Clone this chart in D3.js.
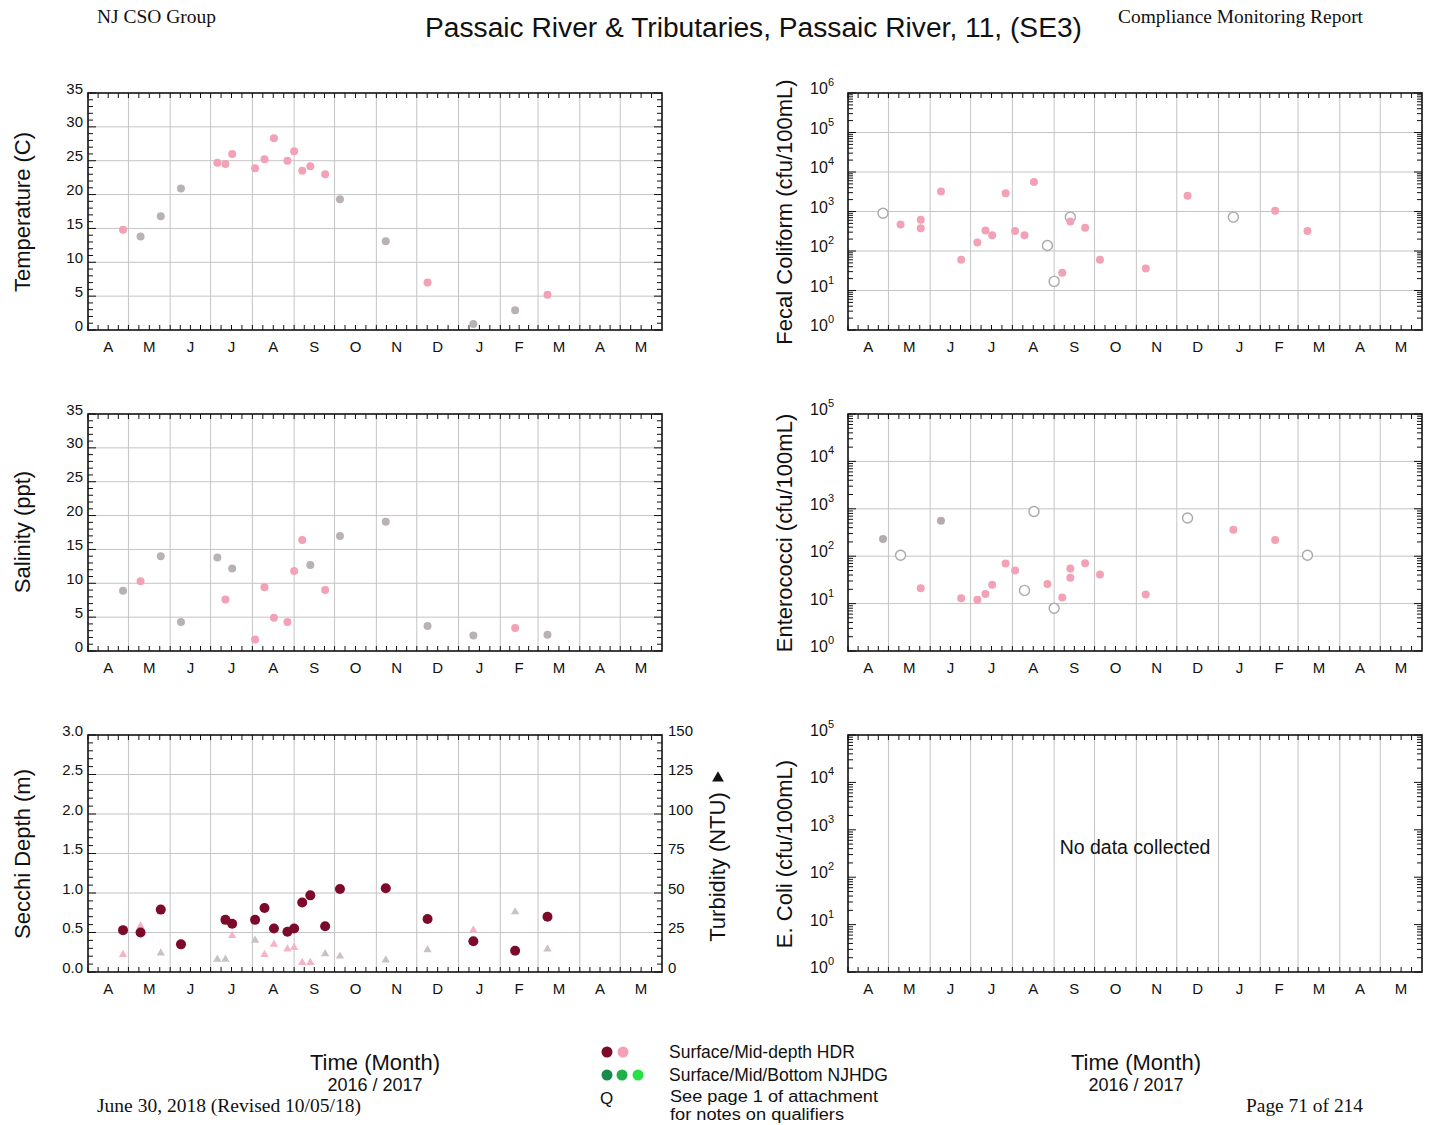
<!DOCTYPE html>
<html>
<head>
<meta charset="UTF-8">
<title>Passaic River SE3</title>
<script src="https://d3js.org/d3.v7.min.js"></script>
<style>
  body { margin: 0; background: #fff; }
  svg text { font-family: "Liberation Sans", Arial, Helvetica, sans-serif; fill: #111; }
  svg text.serif { font-family: "Liberation Serif", "Times New Roman", serif; }
</style>
</head>
<body>
<div id="chart"></div>
<script>
const months = ["A", "M", "J", "J", "A", "S", "O", "N", "D", "J", "F", "M", "A", "M"];

// Temperature (C)
const tempSurfDates = ["2016-04-27","2016-07-06","2016-07-12","2016-07-17","2016-08-03","2016-08-10","2016-08-17","2016-08-27","2016-09-01","2016-09-07","2016-09-13","2016-09-24","2016-12-09","2017-03-08"];
const tempSurfValues = [14.8, 24.7, 24.5, 26.0, 23.9, 25.2, 28.3, 25.0, 26.4, 23.5, 24.2, 23.0, 7.0, 5.2];
const tempMidDates = ["2016-05-10","2016-05-25","2016-06-09","2016-10-05","2016-11-08","2017-01-12","2017-02-12"];
const tempMidValues = [13.8, 16.8, 20.9, 19.3, 13.1, 0.9, 2.9];

// Salinity (ppt)
const salSurfDates = ["2016-05-10","2016-07-12","2016-08-03","2016-08-10","2016-08-17","2016-08-27","2016-09-01","2016-09-07","2016-09-24","2017-02-12"];
const salSurfValues = [10.3, 7.6, 1.7, 9.4, 4.9, 4.3, 11.8, 16.4, 9.0, 3.4];
const salMidDates = ["2016-04-27","2016-05-25","2016-06-09","2016-07-06","2016-07-17","2016-09-13","2016-10-05","2016-11-08","2016-12-09","2017-01-12","2017-03-08"];
const salMidValues = [8.9, 14.0, 4.3, 13.8, 12.2, 12.7, 17.0, 19.1, 3.7, 2.3, 2.4];

// Secchi depth (m)
const secchiDates = ["2016-04-27","2016-05-10","2016-05-25","2016-06-09","2016-07-12","2016-07-17","2016-08-03","2016-08-10","2016-08-17","2016-08-27","2016-09-01","2016-09-07","2016-09-13","2016-09-24","2016-10-05","2016-11-08","2016-12-09","2017-01-12","2017-02-12","2017-03-08"];
const secchiValues = [0.53, 0.50, 0.79, 0.35, 0.66, 0.61, 0.66, 0.81, 0.55, 0.51, 0.55, 0.88, 0.97, 0.58, 1.05, 1.06, 0.67, 0.39, 0.27, 0.70];

// Turbidity (NTU)
const turbSurfDates = ["2016-04-27","2016-05-10","2016-07-17","2016-08-10","2016-08-17","2016-08-27","2016-09-01","2016-09-07","2016-09-13","2017-01-12"];
const turbSurfValues = [11, 29, 23, 11, 17.5, 14.5, 15.5, 6, 6, 26.5];
const turbMidDates = ["2016-05-25","2016-07-06","2016-07-12","2016-08-03","2016-09-24","2016-10-05","2016-11-08","2016-12-09","2017-02-12","2017-03-08"];
const turbMidValues = [12, 8, 8, 20, 11.5, 10, 7.5, 14, 38, 14.5];

// Fecal coliform (cfu/100mL)
const fecalDates = ["2016-05-10","2016-05-25","2016-05-25","2016-06-09","2016-06-24","2016-07-06","2016-07-12","2016-07-17","2016-07-27","2016-08-03","2016-08-10","2016-08-17","2016-09-07","2016-09-13","2016-09-24","2016-10-05","2016-11-08","2016-12-09","2017-02-12","2017-03-08"];
const fecalValues = [470, 620, 375, 3200, 60, 165, 330, 250, 2900, 320, 250, 5600, 28, 560, 390, 60, 36, 2500, 1050, 320];
const fecalQDates = ["2016-04-27","2016-08-27","2016-09-01","2016-09-13","2017-01-12"];
const fecalQValues = [900, 138, 17, 720, 720];

// Enterococci (cfu/100mL)
const enteroDates = ["2016-05-25","2016-06-24","2016-07-06","2016-07-12","2016-07-17","2016-07-27","2016-08-03","2016-08-27","2016-09-07","2016-09-13","2016-09-13","2016-09-24","2016-10-05","2016-11-08","2017-01-12","2017-02-12"];
const enteroValues = [21, 13, 12, 16, 25, 70, 50, 26, 13.5, 55, 35, 71, 41, 15.5, 360, 220];
const enteroMidDates = ["2016-04-27","2016-06-09"];
const enteroMidValues = [230, 560];
const enteroQDates = ["2016-05-10","2016-08-10","2016-08-17","2016-09-01","2016-12-09","2017-03-08"];
const enteroQValues = [105, 19, 880, 8, 640, 105];

const linTicks = [0, 5, 10, 15, 20, 25, 30, 35];
const secchiTicks = [0, 0.5, 1, 1.5, 2, 2.5, 3];
const turbTicks = [0, 25, 50, 75, 100, 125, 150];

const darkRed = "#7b0a2b", pink = "#f3a1b6", grey = "#b9b2b4";

const parse = d3.timeParse("%Y-%m-%d");
const start = new Date(2016, 3, 1), end = new Date(2017, 5, 1);
const monthStarts = d3.timeMonth.range(start, end);

const svg = d3.select("#chart").append("svg")
  .attr("width", 1429).attr("height", 1125);

const colLeft = [88, 662], colRight = [848, 1422];
const rows = [[330, 93], [651, 414], [972, 735]];

function pairs(dates, values) {
  return dates.map((d, i) => ({ date: parse(d), value: values[i] }));
}

// grid, ticks, month labels and frame
function panel(col, row, y, gridVals, yMinor, yMajor) {
  const x = d3.scaleTime().domain([start, end]).range(col);
  const [x0, x1] = col, [yb, yt] = row;
  const g = svg.append("g");
  g.selectAll("line.hg").data(gridVals).join("line").attr("class", "hg")
    .attr("x1", x0).attr("x2", x1).attr("y1", d => y(d)).attr("y2", d => y(d))
    .attr("stroke", "#c4c4c4").attr("stroke-width", 1);
  g.selectAll("line.vg").data(monthStarts.slice(1)).join("line").attr("class", "vg")
    .attr("x1", d => x(d)).attr("x2", d => x(d)).attr("y1", yt).attr("y2", yb)
    .attr("stroke", "#c4c4c4").attr("stroke-width", 1);

  const quarters = [];
  monthStarts.forEach(m => {
    const a = x(m), b = x(d3.timeMonth.offset(m, 1));
    for (let i = 0; i < 4; i++) quarters.push(a + (b - a) * i / 4);
  });
  const ticks = svg.append("g").attr("stroke", "#111").attr("stroke-width", 1);
  ticks.selectAll("line.xb").data(quarters).join("line").attr("class", "xb")
    .attr("x1", d => d).attr("x2", d => d).attr("y1", yb).attr("y2", yb - 5);
  ticks.selectAll("line.xt").data(quarters).join("line").attr("class", "xt")
    .attr("x1", d => d).attr("x2", d => d).attr("y1", yt).attr("y2", yt + 5);
  ticks.selectAll("line.yl").data(yMinor).join("line").attr("class", "yl")
    .attr("x1", x0).attr("x2", d => x0 + (yMajor(d) ? 8 : 5))
    .attr("y1", d => y(d)).attr("y2", d => y(d));
  ticks.selectAll("line.yr").data(yMinor).join("line").attr("class", "yr")
    .attr("x1", x1).attr("x2", d => x1 - (yMajor(d) ? 8 : 5))
    .attr("y1", d => y(d)).attr("y2", d => y(d));

  svg.append("rect").attr("x", x0).attr("y", yt).attr("width", x1 - x0).attr("height", yb - yt)
    .attr("fill", "none").attr("stroke", "#111").attr("stroke-width", 1.6);

  svg.append("g").selectAll("text").data(monthStarts).join("text")
    .attr("x", m => (x(m) + x(d3.timeMonth.offset(m, 1))) / 2)
    .attr("y", yb + 22).attr("text-anchor", "middle").attr("font-size", 15)
    .text((m, i) => months[i]);
  return x;
}

function linLabels(y, vals, xPos, anchor, fmt) {
  svg.append("g").selectAll("text").data(vals).join("text")
    .attr("x", xPos).attr("y", d => y(d) + 0.5).attr("text-anchor", anchor)
    .attr("font-size", 15).text(fmt);
}

function logLabels(y, exps, xPos) {
  const t = svg.append("g").selectAll("text").data(exps).join("text")
    .attr("x", xPos).attr("y", d => y(Math.pow(10, d)) + 1)
    .attr("text-anchor", "end").attr("font-size", 16);
  t.append("tspan").text("10");
  t.append("tspan").attr("dy", -8).attr("font-size", 11).text(d => d);
}

function yTitle(text, bx, cy) {
  svg.append("text").attr("transform", `translate(${bx},${cy}) rotate(-90)`)
    .attr("text-anchor", "middle").attr("font-size", 22).text(text);
}

function dots(x, y, data, color, r) {
  svg.append("g").selectAll("circle").data(data).join("circle")
    .attr("cx", d => x(d.date)).attr("cy", d => y(d.value)).attr("r", r)
    .attr("fill", color);
}

function openDots(x, y, data) {
  svg.append("g").selectAll("circle").data(data).join("circle")
    .attr("cx", d => x(d.date)).attr("cy", d => y(d.value)).attr("r", 5)
    .attr("fill", "#fff").attr("stroke", "#a9a9a9").attr("stroke-width", 1.4);
}

function logMinor(lo, hi) {
  const out = [];
  for (let e = lo; e < hi; e++) for (let k = 1; k < 10; k++) out.push(k * Math.pow(10, e));
  out.push(Math.pow(10, hi));
  return out;
}
const isDecade = d => Math.abs(Math.log10(d) - Math.round(Math.log10(d))) < 1e-9;

// ---- Temperature
const yTemp = d3.scaleLinear().domain([0, 35]).range(rows[0]);
const xTemp = panel(colLeft, rows[0], yTemp, linTicks.slice(1, -1), d3.range(0, 35.5, 1), d => d % 5 === 0);
dots(xTemp, yTemp, pairs(tempMidDates, tempMidValues), grey, 4);
dots(xTemp, yTemp, pairs(tempSurfDates, tempSurfValues), pink, 4);
linLabels(yTemp, linTicks, 83, "end", d => d);
yTitle("Temperature (C)", 30, 212);

// ---- Salinity
const ySal = d3.scaleLinear().domain([0, 35]).range(rows[1]);
const xSal = panel(colLeft, rows[1], ySal, linTicks.slice(1, -1), d3.range(0, 35.5, 1), d => d % 5 === 0);
dots(xSal, ySal, pairs(salMidDates, salMidValues), grey, 4);
dots(xSal, ySal, pairs(salSurfDates, salSurfValues), pink, 4);
linLabels(ySal, linTicks, 83, "end", d => d);
yTitle("Salinity (ppt)", 30, 532);

// ---- Secchi depth + turbidity
const ySec = d3.scaleLinear().domain([0, 3]).range(rows[2]);
const yTurb = d3.scaleLinear().domain([0, 150]).range(rows[2]);
const xSec = panel(colLeft, rows[2], ySec, secchiTicks.slice(1, -1), d3.range(0, 30.5, 1).map(d => d / 10), d => Math.abs(d * 2 - Math.round(d * 2)) < 1e-9);
const tri = d3.symbol(d3.symbolTriangle, 30);
svg.append("g").selectAll("path").data(pairs(turbMidDates, turbMidValues)).join("path")
  .attr("d", tri).attr("transform", d => `translate(${xSec(d.date)},${yTurb(d.value)})`).attr("fill", "#c9c1c3");
svg.append("g").selectAll("path").data(pairs(turbSurfDates, turbSurfValues)).join("path")
  .attr("d", tri).attr("transform", d => `translate(${xSec(d.date)},${yTurb(d.value)})`).attr("fill", "#f6b3c3");
dots(xSec, ySec, pairs(secchiDates, secchiValues), darkRed, 5);
linLabels(ySec, secchiTicks, 83, "end", d => d.toFixed(1));
linLabels(yTurb, turbTicks, 668, "start", d => d);
yTitle("Secchi Depth (m)", 30, 854);
yTitle("Turbidity (NTU)", 725, 867);
svg.append("path").attr("d", d3.symbol(d3.symbolTriangle, 60))
  .attr("transform", "translate(718,778)").attr("fill", "#111");

// ---- Fecal coliform
const yFec = d3.scaleLog().domain([1, 1e6]).range(rows[0]);
const xFec = panel(colRight, rows[0], yFec, [10, 100, 1000, 1e4, 1e5], logMinor(0, 6), isDecade);
openDots(xFec, yFec, pairs(fecalQDates, fecalQValues));
dots(xFec, yFec, pairs(fecalDates, fecalValues), pink, 4);
logLabels(yFec, d3.range(0, 7), 834);
yTitle("Fecal Coliform (cfu/100mL)", 792, 212);

// ---- Enterococci
const yEnt = d3.scaleLog().domain([1, 1e5]).range(rows[1]);
const xEnt = panel(colRight, rows[1], yEnt, [10, 100, 1000, 1e4], logMinor(0, 5), isDecade);
openDots(xEnt, yEnt, pairs(enteroQDates, enteroQValues));
dots(xEnt, yEnt, pairs(enteroMidDates, enteroMidValues), "#b3abad", 4);
dots(xEnt, yEnt, pairs(enteroDates, enteroValues), pink, 4);
logLabels(yEnt, d3.range(0, 6), 834);
yTitle("Enterococci (cfu/100mL)", 792, 533);

// ---- E. coli (no data)
const yEc = d3.scaleLog().domain([1, 1e5]).range(rows[2]);
panel(colRight, rows[2], yEc, [], logMinor(0, 5), isDecade);
logLabels(yEc, d3.range(0, 6), 834);
yTitle("E. Coli (cfu/100mL)", 792, 854);
svg.append("text").attr("x", 1135).attr("y", 854).attr("text-anchor", "middle")
  .attr("font-size", 19.5).text("No data collected");

// ---- header / footer
svg.append("text").attr("class", "serif").attr("x", 97).attr("y", 23).attr("font-size", 18)
  .attr("textLength", 119).attr("lengthAdjust", "spacingAndGlyphs").text("NJ CSO Group");
svg.append("text").attr("class", "serif").attr("x", 1118).attr("y", 23).attr("font-size", 18)
  .attr("textLength", 245).attr("lengthAdjust", "spacingAndGlyphs").text("Compliance Monitoring Report");
svg.append("text").attr("x", 425).attr("y", 37).attr("font-size", 27)
  .attr("textLength", 657).attr("lengthAdjust", "spacingAndGlyphs")
  .text("Passaic River & Tributaries, Passaic River, 11, (SE3)");
svg.append("text").attr("class", "serif").attr("x", 97).attr("y", 1112).attr("font-size", 18)
  .attr("textLength", 264).attr("lengthAdjust", "spacingAndGlyphs").text("June 30, 2018 (Revised 10/05/18)");
svg.append("text").attr("class", "serif").attr("x", 1246).attr("y", 1112).attr("font-size", 18)
  .attr("textLength", 117).attr("lengthAdjust", "spacingAndGlyphs").text("Page 71 of 214");

[375, 1136].forEach(cx => {
  svg.append("text").attr("x", cx).attr("y", 1070).attr("text-anchor", "middle")
    .attr("font-size", 22).text("Time (Month)");
  svg.append("text").attr("x", cx).attr("y", 1091).attr("text-anchor", "middle")
    .attr("font-size", 18).text("2016 / 2017");
});

// ---- legend
const leg = svg.append("g");
leg.append("circle").attr("cx", 607).attr("cy", 1052).attr("r", 5.5).attr("fill", darkRed);
leg.append("circle").attr("cx", 623).attr("cy", 1052).attr("r", 5.5).attr("fill", pink);
leg.append("circle").attr("cx", 607).attr("cy", 1075).attr("r", 5.5).attr("fill", "#178a4c");
leg.append("circle").attr("cx", 622).attr("cy", 1075).attr("r", 5.5).attr("fill", "#1fb04a");
leg.append("circle").attr("cx", 638).attr("cy", 1075).attr("r", 5.5).attr("fill", "#26e045");
leg.append("text").attr("x", 600).attr("y", 1104).attr("font-size", 17).text("Q");
leg.append("text").attr("x", 669).attr("y", 1058).attr("font-size", 17.5).text("Surface/Mid-depth HDR");
leg.append("text").attr("x", 669).attr("y", 1081).attr("font-size", 17.5).text("Surface/Mid/Bottom NJHDG");
leg.append("text").attr("x", 670).attr("y", 1102).attr("font-size", 16)
  .attr("textLength", 208).attr("lengthAdjust", "spacingAndGlyphs").text("See page 1 of attachment");
leg.append("text").attr("x", 670).attr("y", 1120).attr("font-size", 16)
  .attr("textLength", 174).attr("lengthAdjust", "spacingAndGlyphs").text("for notes on qualifiers");
</script>
</body>
</html>
